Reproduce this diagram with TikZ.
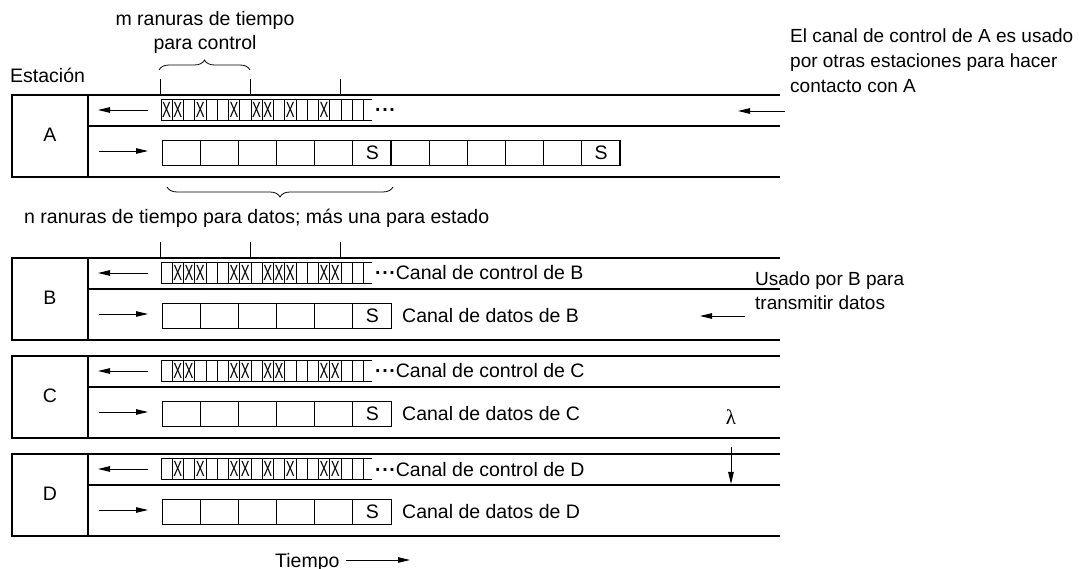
\documentclass[tikz,border=0pt]{standalone}
\usepackage{fontspec}
\usepackage{graphicx}
\setmainfont{Liberation Sans}
\newfontfamily\grkfont{Liberation Serif}
\usetikzlibrary{arrows.meta,decorations.pathreplacing}
\newcommand{\xglyph}{\scalebox{0.6}[1]{X}}
\newcommand{\tdots}{{\bfseries ·\kern0.6pt·\kern0.6pt·}}
\tikzset{
  lbl/.style={font=\fontsize{19.5}{24}\selectfont, inner sep=0pt},
  note/.style={font=\fontsize{19}{25}\selectfont, inner sep=0pt, align=left},
  xmark/.style={font=\fontsize{22}{22}\selectfont, inner sep=0pt},
  boxline/.style={line width=1.1pt},
  cell/.style={line width=0.8pt},
  thickcell/.style={line width=1.6pt},
  arr/.style={line width=0.9pt,-{Triangle[length=12pt,width=5.5pt]}},
  bracedeco/.style={line width=0.8pt, decorate, decoration={brace, amplitude=10pt}},
}
\newcommand{\drawstation}[5]{%
\begin{scope}[shift={(0,#2)}]
  \draw[boxline] (780,0) -- (12,0) -- (12,82) -- (780,82);
  \draw[boxline] (88,0) -- (88,82);
  \draw[boxline] (88,31) -- (780,31);
  \node[lbl, anchor=base] (st#1) at (50,46.5) {#1};
  \coordinate (cs#1) at (148,15);
  \coordinate (ce#1) at (98,15);
  \draw[arr] (cs#1) -- (ce#1);
  \coordinate (ds#1) at (99,56);
  \coordinate (de#1) at (148,56);
  \draw[arr] (ds#1) -- (de#1);
  \draw[cell] (161,4.5) -- (372,4.5) (161,25.5) -- (372,25.5);
  \foreach \i in {0,...,18} \draw[cell] ({161+\i*11.25},4.5) -- ++(0,21);
  \foreach \i in {#3} \node[xmark] at ({161+(\i-0.5)*11.25},15) {\xglyph};
  \draw[cell] (162,45) rectangle (391,70);
  \foreach \i in {1,...,5} \draw[cell] ({162+\i*38.17},45) -- ++(0,25);
  \node[lbl, anchor=base] (s#1) at (372.5,64.5) {S};
  \node[lbl, anchor=base west] (ct#1) at (375,22) {\tdots#4};
  \node[lbl, anchor=base west] (dt#1) at (402,64.5) {#5};
\end{scope}}
\begin{document}
\begin{tikzpicture}[x=1pt,y=-1pt]
\useasboundingbox (0,0) rectangle (1080,569);
% top labels
\node[lbl, anchor=base] (mtxt) at (205,26) {m ranuras de tiempo};
\node[lbl, anchor=base] (mtxt2) at (205,50) {para control};
\coordinate (bt1) at (159,70);
\coordinate (bt2) at (250,70);
\draw[bracedeco] (bt1) -- (bt2);
\node[lbl, anchor=base west] (estacion) at (10,83) {Estación};
% ticks above A
\foreach \x in {160,250,340} \draw[cell] (\x,79) -- (\x,95);
% stations
\drawstation{A}{95}{1,2,4,7,9,10,12,15}{}{}
\drawstation{B}{258}{2,3,4,7,8,10,11,12,15,16}{Canal de control de B}{Canal de datos de B}
\drawstation{C}{356}{2,3,7,8,10,11,15,16}{Canal de control de C}{Canal de datos de C}
\drawstation{D}{454}{2,4,7,8,10,12,15,16}{Canal de control de D}{Canal de datos de D}
% second data group for A
\begin{scope}[shift={(0,95)}]
  \draw[cell] (391,45) rectangle (620,70);
  \foreach \i in {1,...,5} \draw[cell] ({391+\i*38.17},45) -- ++(0,25);
  \draw[thickcell] (391,45) -- (391,70);
  \draw[thickcell] (620,45) -- (620,70);
  \node[lbl, anchor=base] (sA2) at (601,64.5) {S};
\end{scope}
% brace below A
\coordinate (bb1) at (167,187);
\coordinate (bb2) at (393,187);
\draw[bracedeco, decoration={mirror}] (bb1) -- (bb2);
\node[lbl, anchor=base west] (ntxt) at (24,224) {n ranuras de tiempo para datos; más una para estado};
% ticks above B
\foreach \x in {160,250,340} \draw[cell] (\x,242) -- (\x,258);
% right side notes
\node[note, anchor=base west] (noteA) at (790,93)
  {El canal de control de A es usado\\por otras estaciones para hacer\\contacto con A};
\coordinate (naS) at (785,111);
\coordinate (naE) at (738,111);
\draw[arr] (naS) -- (naE);
\node[note, anchor=base west, font=\fontsize{19}{24}\selectfont] (noteB) at (755,310)
  {Usado por B para\\transmitir datos};
\coordinate (nbS) at (745,316);
\coordinate (nbE) at (700,316);
\draw[arr] (nbS) -- (nbE);
% lambda
\node[lbl, font=\grkfont\fontsize{21}{24}\selectfont] (lam) at (731,417) {λ};
\coordinate (lamS) at (731,447);
\coordinate (lamE) at (731,484);
\draw[arr] (lamS) -- (lamE);
% time
\node[lbl, anchor=base west] (tiempo) at (275,567) {Tiempo};
\coordinate (tS) at (346,560);
\coordinate (tE) at (410,560);
\draw[arr] (tS) -- (tE);
\end{tikzpicture}
\end{document}
